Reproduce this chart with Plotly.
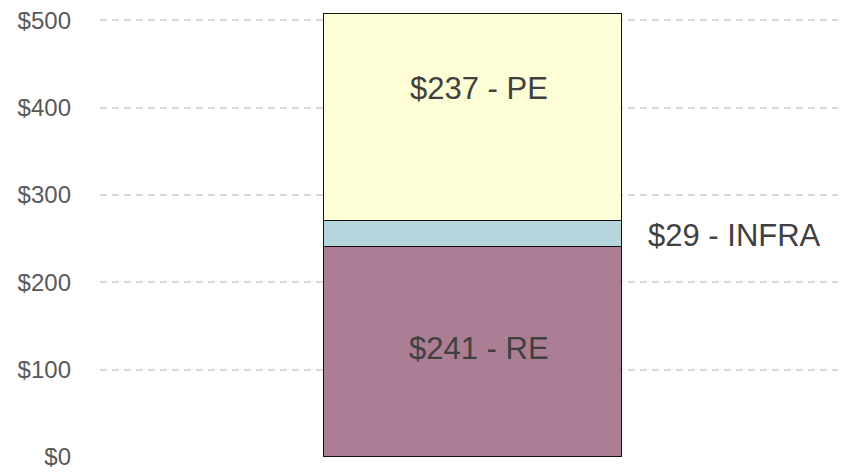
import plotly.graph_objects as go

categories = ["Total"]
series_names = ["RE", "INFRA", "PE"]
series_values = [241, 29, 237]
colors = ["#ac7e96", "#b4d6dc", "#fefed6"]
tick_vals = [0, 100, 200, 300, 400, 500]
tick_text = ["$0", "$100", "$200", "$300", "$400", "$500"]

FONT = "Liberation Sans, Arial, sans-serif"

fig = go.Figure()
for name, val, col in zip(series_names, series_values, colors):
    fig.add_trace(go.Bar(
        x=categories, y=[val], name=name,
        marker=dict(color=col, line=dict(color="#111111", width=1.5)),
        width=0.4, hoverinfo="skip",
    ))

# labels
base = 0
for name, val in zip(series_names, series_values):
    center = base + val / 2
    text = f"${val} - {name}"
    if name == "INFRA":
        fig.add_annotation(x=0.2, y=center, xref="x", yref="y", text=text,
                           showarrow=False, xanchor="left", xshift=24, yshift=-2,
                           font=dict(family=FONT, size=31, color="#404040"))
    elif name == "PE":
        fig.add_annotation(x=0, y=base + val, xref="x", yref="y", text=text,
                           showarrow=False, xanchor="center", yanchor="middle",
                           xshift=6, yshift=-74,
                           font=dict(family=FONT, size=31, color="#404040"))
    else:
        fig.add_annotation(x=0, y=center, xref="x", yref="y", text=text,
                           showarrow=False, xanchor="center", xshift=6, yshift=3,
                           font=dict(family=FONT, size=31, color="#404040"))
    base += val

fig.update_layout(
    barmode="stack",
    width=838, height=465,
    margin=dict(l=92, r=0, t=0, b=16),
    plot_bgcolor="white", paper_bgcolor="white",
    showlegend=False,
    bargap=0,
)
fig.update_xaxes(visible=False, range=[-0.5, 0.5])
fig.update_yaxes(
    range=[0, 514.3], tickvals=tick_vals, ticktext=tick_text,
    showgrid=True, gridcolor="#d9d9d9", gridwidth=1.5, griddash="7px,5px",
    zeroline=False, showline=False, ticks="",
    tickfont=dict(family=FONT, size=24, color="#595959"),
    ticklabelstandoff=28, ticklabeloverflow="allow",
)

fig.write_html("out.html")
